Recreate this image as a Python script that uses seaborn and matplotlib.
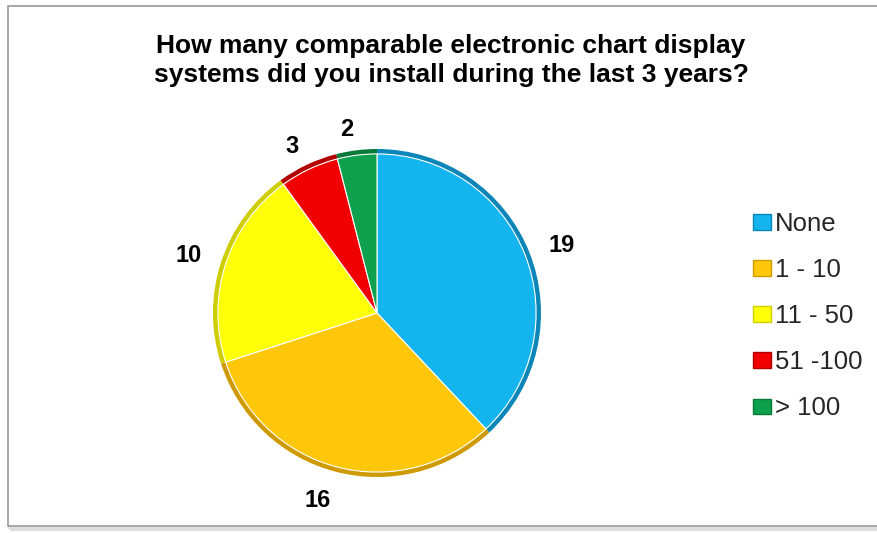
import matplotlib
matplotlib.use("Agg")
import matplotlib.pyplot as plt
import matplotlib.transforms as mtransforms
from matplotlib.patches import Rectangle, Patch
import seaborn as sns

sns.set_theme(style="white")
plt.rcParams["font.family"] = ["Liberation Sans", "DejaVu Sans"]

categories = ["None", "1 - 10", "11 - 50", "51 -100", "> 100"]
counts = [19, 16, 10, 3, 2]
colors = ["#14B4EE", "#FFC709", "#FFFF0A", "#F00000", "#0EA04C"]
rim_colors = ["#0C86B8", "#CF9A00", "#CDCD00", "#B00000", "#077A38"]
title = "How many comparable electronic chart display\nsystems did you install during the last 3 years?"

W, H = 877, 533
fig = plt.figure(figsize=(W / 100, H / 100), dpi=100)
fig.patch.set_facecolor("white")

# chart frame with a soft shadow
fig.add_artist(Rectangle((10 / W, 1 - 529 / H), 880 / W, 522 / H, transform=fig.transFigure,
                         facecolor="none", edgecolor="#DDDDDD", lw=3.0, zorder=0))
fig.add_artist(Rectangle((8 / W, 1 - 526 / H), 880 / W, 520 / H, transform=fig.transFigure,
                         facecolor="white", edgecolor="#9A9A9A", lw=1.2, zorder=0))

# pie axes: centre (377, 313) px, radius 164 px, limits +-1.25
r_px = 164
side = 2 * 1.25 * r_px
cx, cy = 377, 313
ax = fig.add_axes([(cx - side / 2) / W, 1 - (cy + side / 2) / H, side / W, side / H])

# darker rim gives the bevelled look
ax.pie(counts, colors=rim_colors, startangle=90, counterclock=False,
       wedgeprops=dict(linewidth=0))
wedges, texts = ax.pie(counts, colors=colors, startangle=90, counterclock=False,
                       radius=0.97, labels=[str(c) for c in counts], labeldistance=1.16,
                       textprops=dict(fontsize=17, fontweight="bold", color="black"),
                       wedgeprops=dict(linewidth=0.8, edgecolor="white"))
# the bottom label sits a little further out, below the rim
texts[1].set_transform(mtransforms.offset_copy(texts[1].get_transform(), fig=fig,
                                               x=0, y=-9, units="dots"))
ax.set_xlim(-1.25, 1.25)
ax.set_ylim(-1.25, 1.25)
ax.set_aspect("equal")
ax.axis("off")

fig.text(451 / W, 1 - 60.5 / H, title, ha="center", va="center", fontsize=19,
         fontweight="bold", color="black", linespacing=1.3)

handles = [Patch(facecolor=c, edgecolor=rc, linewidth=1.0) for c, rc in zip(colors, rim_colors)]
fig.legend(handles, categories, loc="upper left", bbox_to_anchor=(753 / W, 1 - 212 / H),
           frameon=False, fontsize=18.5, handlelength=0.7, handleheight=0.55,
           handletextpad=0.15, labelspacing=0.86, borderpad=0, borderaxespad=0)

fig.savefig("out.png", dpi=100, facecolor="white")
